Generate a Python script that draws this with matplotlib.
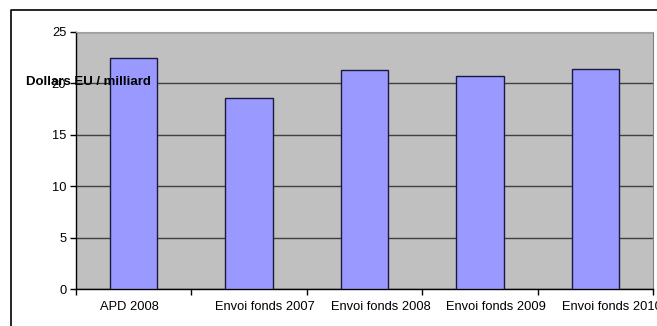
import numpy as np
import matplotlib
matplotlib.use('Agg')
import matplotlib.pyplot as plt
from matplotlib.lines import Line2D

plt.rcParams['font.family'] = ['Liberation Sans', 'DejaVu Sans']

categories = ['APD 2008', 'Envoi fonds 2007', 'Envoi fonds 2008',
              'Envoi fonds 2009', 'Envoi fonds 2010']
values = [22.5, 18.6, 21.3, 20.7, 21.4]
ylabel = 'Dollars EU / milliard'

W, H = 657, 326
fig = plt.figure(figsize=(W/100, H/100), dpi=100)
fig.patch.set_facecolor('white')

# plot area in pixels: x 76..653, y 32..289
ax = fig.add_axes([76/W, (H-289)/H, 577/W, 257/H])
ax.set_facecolor('#C0C0C0')

x = np.arange(len(categories))
ax.bar(x, values, width=0.41, color='#9999FF', edgecolor='#1a1a40',
       linewidth=1.0, zorder=3)

ax.set_xlim(-0.5, len(categories)-0.5)
ax.set_ylim(0, 25)
ax.set_yticks(np.arange(0, 26, 5))
ax.yaxis.grid(True, color='#404040', linewidth=1.0, zorder=1)
ax.set_axisbelow(True)

# tick marks on category borders, labels left aligned inside each category
ax.set_xticks(np.arange(len(categories)+1) - 0.5)
ax.set_xticklabels([])
ax.set_xticks(x - 0.5 + 24/115.4, minor=True)
ax.set_xticklabels(categories, minor=True, ha='left', fontsize=9.3)
ax.tick_params(axis='x', which='major', direction='out', length=4,
               width=1, color='black')
ax.tick_params(axis='x', which='minor', length=0, pad=9)
ax.tick_params(axis='y', direction='out', length=4, width=1, pad=3,
               labelsize=9.3, color='black')

for side in ['left', 'bottom']:
    ax.spines[side].set_color('black')
    ax.spines[side].set_linewidth(1.0)
ax.spines['top'].set_color('#A0A0A0')
ax.spines['right'].set_color('#808080')

# axis title sits on top of the plot area, so draw it at figure level
fig.text(88/W, 1-82/H, ylabel, fontweight='bold', fontsize=9.5,
         ha='center', va='center', zorder=10)

# frame around the chart
fig.add_artist(Line2D([11/W, 11/W, 1.0], [0.0, 1-10/H, 1-10/H],
                      color='black', linewidth=1.2,
                      transform=fig.transFigure))

fig.savefig('out.png', dpi=100)
